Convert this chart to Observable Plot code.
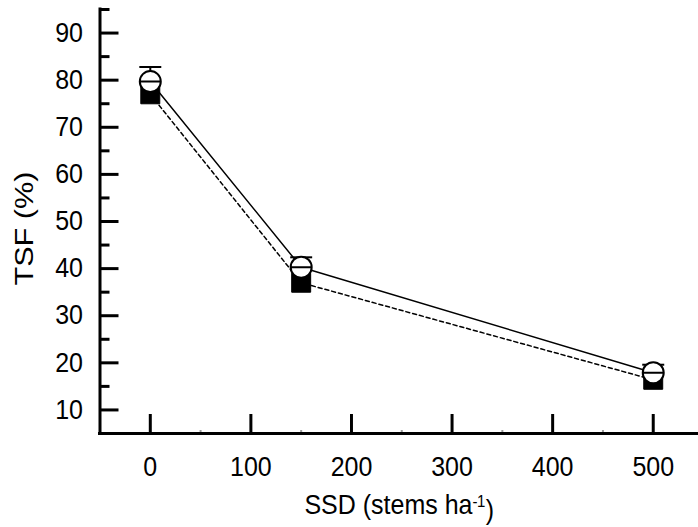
<!DOCTYPE html>
<html>
<head>
<meta charset="utf-8">
<script src="https://cdn.jsdelivr.net/npm/d3@7"></script>
<script src="https://cdn.jsdelivr.net/npm/@observablehq/plot@0.6"></script>
<style>
  html, body { margin: 0; padding: 0; background: #fff; }
  #chart { width: 698px; height: 527px; }
</style>
</head>
<body>
<div id="chart"></div>
<script>
// Data
const ssd = [0, 150, 500];
const tsfOpen = [79.7, 40.3, 17.9];      // open circles, solid line
const tsfOpenHi = [82.8, 42.4, 19.6];    // upper error
const tsfOpenLo = [76.6, 38.2, 16.2];    // lower error
const tsfFilled = [77.0, 37.0, 16.4];    // filled squares, dashed line

const xMajorTicks = [0, 100, 200, 300, 400, 500];
const xMinorTicks = [-50, 50, 150, 250, 350, 450];
const yMajorTicks = [10, 20, 30, 40, 50, 60, 70, 80, 90];
const yMinorTicks = [15, 25, 35, 45, 55, 65, 75, 85, 95];
const xDomain = [-50, 545];
const yDomain = [5, 95];
const xLabelMain = "SSD (stems ha";
const xLabelSup = "-1";
const xLabelEnd = ")";
const yLabel = "TSF (%)";

const openData = ssd.map((x, i) => ({x, y: tsfOpen[i], hi: tsfOpenHi[i], lo: tsfOpenLo[i]}));
const filledData = ssd.map((x, i) => ({x, y: tsfFilled[i]}));

const circleBar = {
  draw(ctx, size) {
    const r = Math.sqrt(size / Math.PI);
    ctx.moveTo(r, 0);
    ctx.arc(0, 0, r, 0, 2 * Math.PI);
    ctx.closePath();
    ctx.moveTo(-r, 0);
    ctx.lineTo(r, 0);
  }
};
const capSymbol = {
  draw(ctx, size) {
    const w = Math.sqrt(size);
    ctx.moveTo(-w, 0);
    ctx.lineTo(w, 0);
  }
};

const font = "'Liberation Sans', Arial, sans-serif";

const chart = Plot.plot({
  width: 698,
  height: 527,
  marginLeft: 99.5,
  marginRight: 0,
  marginTop: 9,
  marginBottom: 94,
  style: {fontFamily: font, fontSize: "22px", background: "#fff", color: "#000", overflow: "visible"},
  x: {domain: xDomain, axis: null},
  y: {domain: yDomain, axis: null},
  marks: [
    // tick labels
    Plot.axisY(yMajorTicks, {tickSize: 0, tickPadding: 17, label: null, fontSize: 25, letterSpacing: -1.2, className: "ticklab"}),
    Plot.axisX(xMajorTicks, {tickSize: 0, tickPadding: 24, label: null, fontSize: 25, letterSpacing: -1.2, className: "ticklab"}),
    // ticks (inward)
    Plot.axisY(yMajorTicks, {tickSize: -19, strokeWidth: 3, tickFormat: () => "", label: null}),
    Plot.axisY(yMinorTicks, {tickSize: -10, strokeWidth: 3, tickFormat: () => "", label: null}),
    Plot.axisX(xMajorTicks, {tickSize: -19, strokeWidth: 3, tickFormat: () => "", label: null}),
    Plot.axisX(xMinorTicks, {tickSize: -3, strokeWidth: 2, stroke: "#999", tickFormat: () => "", label: null}),
    // axis lines
    Plot.ruleX([xDomain[0]], {strokeWidth: 3, strokeLinecap: "square"}),
    Plot.ruleY([yDomain[0]], {strokeWidth: 3, strokeLinecap: "square"}),
    // series lines
    Plot.line(filledData, {x: "x", y: "y", stroke: "#000", strokeWidth: 1.5, strokeDasharray: "4,3"}),
    Plot.line(openData, {x: "x", y: "y", stroke: "#000", strokeWidth: 1.5}),
    // error bars
    Plot.ruleX(openData, {x: "x", y1: "lo", y2: "hi", stroke: "#000", strokeWidth: 2}),
    Plot.dot(openData, {x: "x", y: "hi", symbol: capSymbol, r: 6.2, stroke: "#000", strokeWidth: 2, fill: "none"}),
    // markers
    Plot.dot(filledData, {x: "x", y: "y", symbol: "square", r: 10.7, fill: "#000", stroke: "#000", strokeWidth: 1}),
    Plot.dot(openData, {x: "x", y: "y", symbol: circleBar, r: 10.5, fill: "#fff", stroke: "#000", strokeWidth: 2}),
    // axis titles
    Plot.text([xLabelMain + xLabelSup + xLabelEnd], {frameAnchor: "bottom", dy: 72, text: d => d, textAnchor: "middle", lineAnchor: "middle", fontSize: 25, letterSpacing: -1.2, fill: "#000", className: "title xtitle"}),
    Plot.text([yLabel], {frameAnchor: "left", dx: -75, dy: 7, rotate: -90, text: d => d, textAnchor: "middle", lineAnchor: "middle", fontSize: 26, letterSpacing: -0.4, fill: "#000", className: "title ytitle"})
  ]
});
document.getElementById("chart").appendChild(chart);

// Superscript in x title
chart.querySelectorAll(".xtitle text").forEach(t => {
  t.textContent = "";
  const ns = "http://www.w3.org/2000/svg";
  const a = document.createElementNS(ns, "tspan"); a.textContent = xLabelMain;
  const b = document.createElementNS(ns, "tspan"); b.textContent = xLabelSup;
  b.setAttribute("dy", "-0.45em"); b.setAttribute("font-size", "15"); b.setAttribute("letter-spacing", "-0.5");
  const c = document.createElementNS(ns, "tspan"); c.textContent = xLabelEnd;
  c.setAttribute("dy", "0.45em"); c.setAttribute("dx", "1");
  t.append(a, b, c);
});

// Stretch text vertically on screen (the source figure's text is tall and narrow)
function stretch(selector, kScreenY) {
  chart.querySelectorAll(selector).forEach(g => {
    g.querySelectorAll("text").forEach(t => {
      const b = t.getBBox();
      const cx = b.x + b.width / 2, cy = b.y + b.height / 2;
      const rotated = (t.getAttribute("transform") || "").includes("rotate");
      const s = rotated ? `scale(${kScreenY},1)` : `scale(1,${kScreenY})`;
      const prev = t.getAttribute("transform") || "";
      t.setAttribute("transform", `${prev} translate(${cx},${cy}) ${s} translate(${-cx},${-cy})`);
    });
  });
}
stretch(".ticklab", 1.08);
stretch(".xtitle", 1.1);
stretch(".ytitle", 1.18);
</script>
</body>
</html>
